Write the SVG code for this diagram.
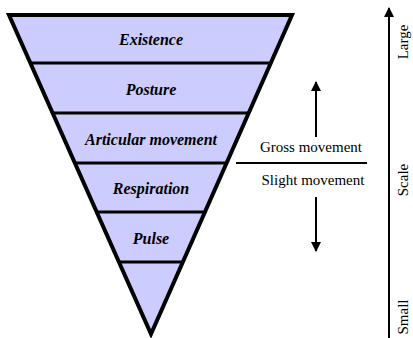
<svg xmlns="http://www.w3.org/2000/svg" width="413" height="338" viewBox="0 0 413 338">
<defs>
<style>
.band{fill:#CCCCFF;stroke:none}
.sep{stroke:#000;stroke-width:3}
.lbl{font-size:16px;font-weight:bold;font-style:italic;text-anchor:middle;fill:#000}
.txt{font-size:15px;text-anchor:middle;fill:#000}
.ln{stroke:#000;stroke-width:2;fill:none}
</style>
<marker id="ah" viewBox="0 0 10 10" refX="9" refY="5" markerWidth="5" markerHeight="5" orient="auto-start-reverse" markerUnits="strokeWidth">
<path d="M0,0 L10,5 L0,10 z" fill="#000"/>
</marker>
</defs>
<rect width="413" height="338" fill="#fff"/>
<g id="funnel">
<polygon class="band" points="9,15 292,15 151,334"/>
</g>
<g font-family="Liberation Serif, Times New Roman, serif">
<g id="existence"><text class="lbl" x="151" y="45">Existence</text></g>
<g id="posture"><text class="lbl" x="151" y="95">Posture</text></g>
<g id="articular"><text class="lbl" x="151" y="145">Articular movement</text></g>
<g id="respiration"><text class="lbl" x="151" y="194">Respiration</text></g>
<g id="pulse"><text class="lbl" x="151" y="244">Pulse</text></g>
</g>
<g id="bottom"></g>
<g id="separators">
<line class="sep" x1="30" y1="63" x2="271" y2="63"/>
<line class="sep" x1="52" y1="113" x2="249" y2="113"/>
<line class="sep" x1="75" y1="163" x2="227" y2="163"/>
<line class="sep" x1="97" y1="212" x2="205" y2="212"/>
<line class="sep" x1="119" y1="262" x2="183" y2="262"/>
</g>
<polygon points="9,15 292,15 151,334" fill="none" stroke="#000" stroke-width="4" stroke-linejoin="miter"/>
<g id="movement" font-family="Liberation Serif, Times New Roman, serif">
<text class="txt" x="311" y="152">Gross movement</text>
<text class="txt" x="313" y="185">Slight movement</text>
</g>
<g id="connectors">
<line class="ln" x1="236" y1="163" x2="367" y2="163"/>
<line class="ln" x1="316" y1="137" x2="316" y2="82" marker-end="url(#ah)"/>
<line class="ln" x1="316" y1="197" x2="316" y2="251" marker-end="url(#ah)"/>
<line class="ln" x1="389" y1="338" x2="389" y2="8" marker-end="url(#ah)"/>
</g>
<g id="scale" font-family="Liberation Serif, Times New Roman, serif">
<text class="txt" transform="translate(408,42) rotate(-90)">Large</text>
<text class="txt" transform="translate(408,180) rotate(-90)">Scale</text>
<text class="txt" transform="translate(408,317) rotate(-90)">Small</text>
</g>
</svg>
